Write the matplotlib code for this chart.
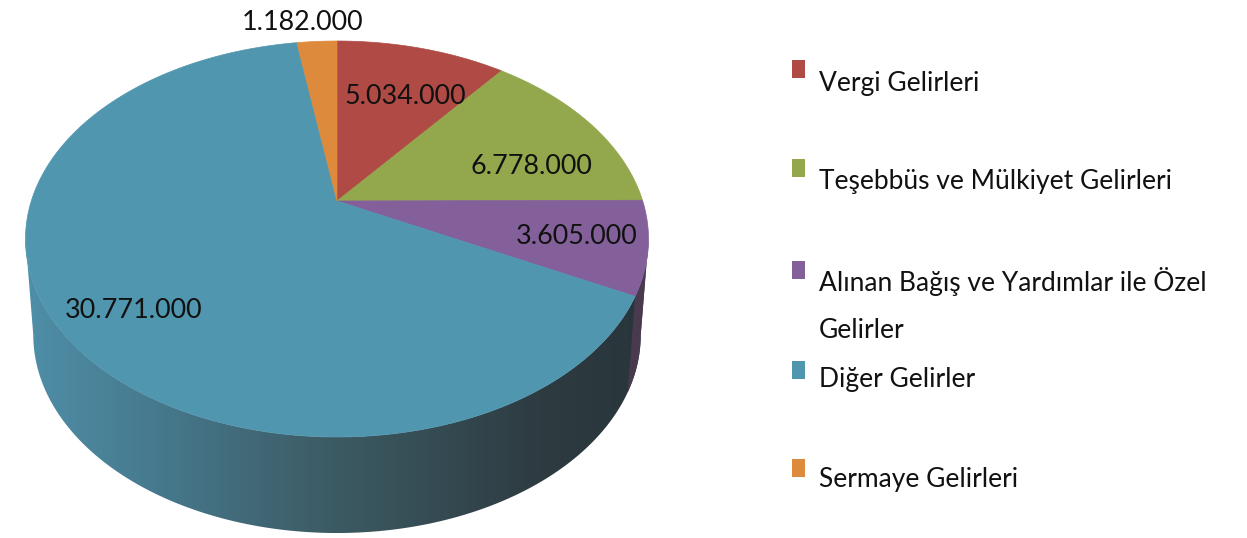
import numpy as np
import matplotlib
matplotlib.use('Agg')
import matplotlib.pyplot as plt
from matplotlib.colors import LinearSegmentedColormap
from matplotlib.patches import Polygon

# Datos
categorias = ['Vergi Gelirleri', 'Teşebbüs ve Mülkiyet Gelirleri',
              'Alınan Bağış ve Yardımlar ile Özel\nGelirler', 'Diğer Gelirler', 'Sermaye Gelirleri']
valores = [5034000, 6778000, 3605000, 30771000, 1182000]
colores = ['#b04a45', '#93a84c', '#83609a', '#5096ae', '#dd8a3c']

# Posiciones en pixeles de la imagen original
pos_etiquetas = [(405, 97), (531, 167), (577, 236), (134, 310), (303, 22)]
pos_leyenda = [83, 182, 282, 380, 479]
pos_cuadros = [69, 168, 270, 370, 468]

# Proyeccion en perspectiva de la tapa del disco
CX, CY = 337, 201
A, B, K = 305.7, 190.7, 0.192
ALTO = 96


def tapa(angulo):
    # angulo en radianes, horario desde arriba
    u, v = np.sin(angulo), np.cos(angulo)
    w = 1 + K * v
    return CX + A * u / w, CY - B * v / w


def base(angulo):
    x, y = tapa(angulo)
    return CX + (x - CX) * 0.975, y + ALTO


plt.rcParams['font.family'] = ['Lato', 'DejaVu Sans']

fig = plt.figure(figsize=(12.47, 5.38), dpi=100)
ax = fig.add_axes([0, 0, 1, 1])

fracciones = np.array(valores) / sum(valores)
limites = np.concatenate([[0], np.cumsum(fracciones)]) * 2 * np.pi

# Angulo donde la tapa es mas ancha: ahi arranca la pared del disco
extremo = np.arccos(-K)

# Lateral del disco con degradado horizontal
t = np.linspace(extremo, 2 * np.pi - extremo, 300)
xs, ys = tapa(t)
xb, yb = base(t)
lateral = Polygon(np.column_stack([np.r_[xs, xb[::-1]], np.r_[ys, yb[::-1]]]),
                  closed=True, transform=ax.transData, fc='none', ec='none')
ax.add_patch(lateral)
cmap = LinearSegmentedColormap.from_list(
    'lado', [(0, '#4f8fa8'), (0.22, '#46788c'), (0.5, '#3c5a63'), (0.83, '#2e3b41'), (1, '#28353b')])
gradiente = np.linspace(0, 1, 512)[None, :]
img = ax.imshow(gradiente, extent=(25, 648, 538, 0), cmap=cmap, aspect='auto', zorder=1)
img.set_clip_path(lateral)

# Tramo morado del lateral
t = np.linspace(extremo, limites[3], 60)
xs, ys = tapa(t)
xb, yb = base(t)
ax.fill(np.r_[xs, xb[::-1]], np.r_[ys, yb[::-1]], color='#4a3a50', lw=0, zorder=2)

# Porciones de la tapa
for i, color in enumerate(colores):
    t = np.linspace(limites[i], limites[i + 1], 200)
    xs, ys = tapa(t)
    ax.fill(np.r_[CX, xs], np.r_[CY, ys], color=color, lw=0.5, zorder=3)

# Etiquetas de valores
for valor, (x, y) in zip(valores, pos_etiquetas):
    ax.text(x, y, f'{valor:,}'.replace(',', '.'), ha='center', va='center',
            fontsize=19.4, color='#111111', zorder=4)

# Leyenda
for nombre, color, y, yc in zip(categorias, colores, pos_leyenda, pos_cuadros):
    ax.fill([792, 805, 805, 792], [yc - 9, yc - 9, yc + 9, yc + 9], color=color, lw=0)
    for n, linea in enumerate(nombre.split('\n')):
        ax.text(819, y + 49 * n, linea, ha='left', va='center', fontsize=19, color='#111111')

ax.set_xlim(0, 1247)
ax.set_ylim(538, 0)
ax.axis('off')

fig.savefig('out.png', dpi=100)
